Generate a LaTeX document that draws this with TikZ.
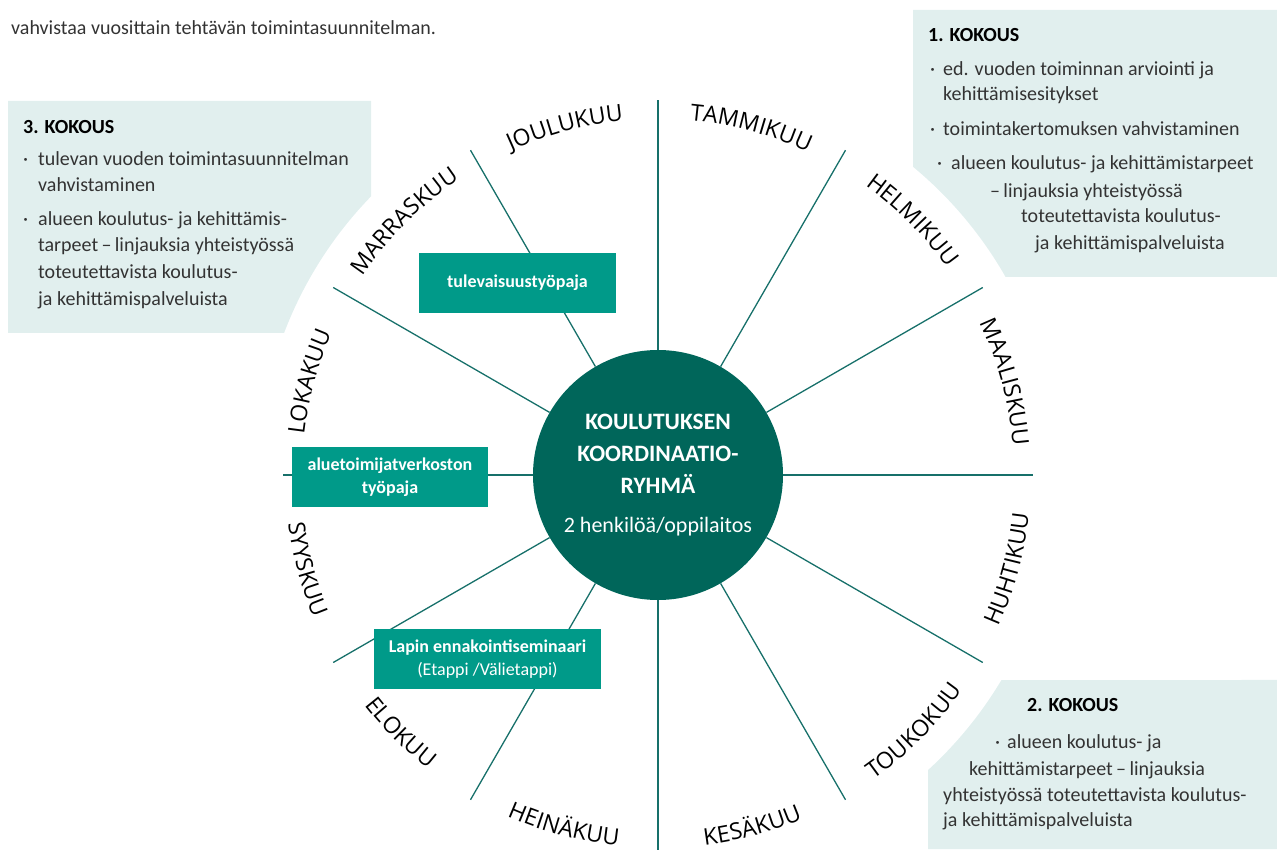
\documentclass[tikz,border=0pt]{standalone}
\usepackage{fontspec}
\setmainfont{Carlito}
\newfontfamily\monthfont{Open Sans}
\usetikzlibrary{decorations.text}
\definecolor{hubc}{HTML}{00665A}
\definecolor{spokec}{HTML}{17706A}
\definecolor{tealc}{HTML}{009A89}
\definecolor{lightc}{HTML}{E1EFEE}
\definecolor{txtc}{HTML}{333333}
\newcommand\mfont{\monthfont\fontsize{23}{26}\selectfont}
\newcommand\bdot[1]{\makebox[#1][l]{·}}
\newcommand\mtop[3]{\path[decorate,decoration={text along path,text={|\mfont|#3},text align=center}] (hub.center) ++(#2+20:356) coordinate (#1) arc[start angle=#2+20,end angle=#2-20,radius=356];}
\newcommand\mbot[3]{\path[decorate,decoration={text along path,text={|\mfont|#3},text align=center}] (hub.center) ++(#2-20:373) coordinate (#1) arc[start angle=#2-20,end angle=#2+20,radius=373];}
\tikzset{
  spoke/.style={draw=spokec,line width=1.3pt},
  light/.style={fill=lightc},
  tbox/.style={rectangle,fill=tealc,text=white,inner sep=0pt,align=center,
    font=\fontsize{18}{22.5}\selectfont\bfseries},
  txt/.style={anchor=base west,inner sep=0pt,text=txtc,font=\fontsize{20}{24}\selectfont},
  head/.style={anchor=base west,inner sep=0pt,text=black,font=\fontsize{20}{24}\selectfont\bfseries},
}
\begin{document}
\begin{tikzpicture}[x=1pt,y=1pt]
\useasboundingbox (0,0) rectangle (1277,849);
% light boxes
\fill[light] (913,839) -- (1277,839) -- (1277,572) -- (1005.6,572) arc[start angle=29.67,end angle=50.39,radius=400] -- cycle;
\fill[light] (8,748) -- (371,748) -- (371,652.6) arc[start angle=135.85,end angle=159.2,radius=400] -- (8,516) -- cycle;
\fill[light] (928,0) -- (928,78.9) arc[start angle=-47.54,end angle=-30.83,radius=400] -- (1277,169) -- (1277,0) -- cycle;
% hub
\node[circle,fill=hubc,minimum size=250pt,inner sep=0pt,text=white,align=center,
  font=\fontsize{23.5}{32}\selectfont\bfseries] (hub) at (658,374)
  {KOULUTUKSEN\\KOORDINAATIO-\\RYHMÄ\\[7pt]{\mdseries\fontsize{22}{32}\selectfont 2 henkilöä/oppilaitos}};
% spokes
\foreach \a in {0,30,...,330}{
  \path (hub.center) ++(\a:375) coordinate (s\a);
  \draw[spoke] (hub) -- (s\a);
}
% teal boxes
\node[tbox,minimum width=197pt,minimum height=60pt] (tb1) at (517.5,566) {tulevaisuustyöpaja};
\node[tbox,minimum width=196pt,minimum height=60pt] (tb2) at (390,372) {aluetoimijatverkoston\\työpaja};
\node[tbox,minimum width=227pt,minimum height=60pt] (tb3) at (487.5,190) {Lapin ennakointiseminaari\\{\mdseries (Etappi /Välietappi)}};
% months
\mtop{mA}{75}{TAMMIKUU}
\mtop{mB}{45}{HELMIKUU}
\mtop{mC}{15}{MAALISKUU}
\mbot{mD}{-15}{HUHTIKUU}
\mbot{mE}{-45}{TOUKOKUU}
\mbot{mF}{-75}{KESÄKUU}
\mbot{mG}{-105}{HEINÄKUU}
\mbot{mH}{-135}{ELOKUU}
\mbot{mI}{-165}{SYYSKUU}
\mtop{mJ}{165}{LOKAKUU}
\mtop{mK}{135}{MARRASKUU}
\mtop{mL}{105}{JOULUKUU}
% header text
\node[txt,font=\fontsize{20}{24}\selectfont] (hdr) at (11,814) {vahvistaa vuosittain tehtävän toimintasuunnitelman.};
% box 1
\node[head] (k1) at (928,807) {1. KOKOUS};
\node[txt] (k1a) at (930,773) {\bdot{13pt}ed. vuoden toiminnan arviointi ja};
\node[txt] (k1b) at (943,748) {kehittämisesitykset};
\node[txt] (k1c) at (930,713) {\bdot{13pt}toimintakertomuksen vahvistaminen};
\node[txt] (k1d) at (937,679) {\bdot{14pt}alueen koulutus- ja kehittämistarpeet};
\node[txt] (k1e) at (990,651) {–\,linjauksia yhteistyössä};
\node[txt] (k1f) at (1021,626) {toteutettavista koulutus-};
\node[txt] (k1g) at (1035,599) {ja kehittämispalveluista};
% box 3
\node[head] (k3) at (23,715) {3. KOKOUS};
\node[txt] (k3a) at (23,683) {\bdot{15pt}tulevan vuoden toimintasuunnitelman};
\node[txt] (k3b) at (38,657) {vahvistaminen};
\node[txt] (k3c) at (23,623) {\bdot{15pt}alueen koulutus- ja kehittämis-};
\node[txt] (k3d) at (38,597) {tarpeet\,–\,linjauksia yhteistyössä};
\node[txt] (k3e) at (38,570) {toteutettavista koulutus-};
\node[txt] (k3f) at (38,543) {ja kehittämispalveluista};
% box 2
\node[head] (k2) at (1027,137) {2. KOKOUS};
\node[txt] (k2a) at (995,101) {\bdot{12pt}alueen koulutus- ja};
\node[txt] (k2b) at (969,74) {kehittämistarpeet\,–\,linjauksia};
\node[txt] (k2c) at (943,48) {yhteistyössä toteutettavista koulutus-};
\node[txt] (k2d) at (943,23) {ja kehittämispalveluista};
\end{tikzpicture}
\end{document}
